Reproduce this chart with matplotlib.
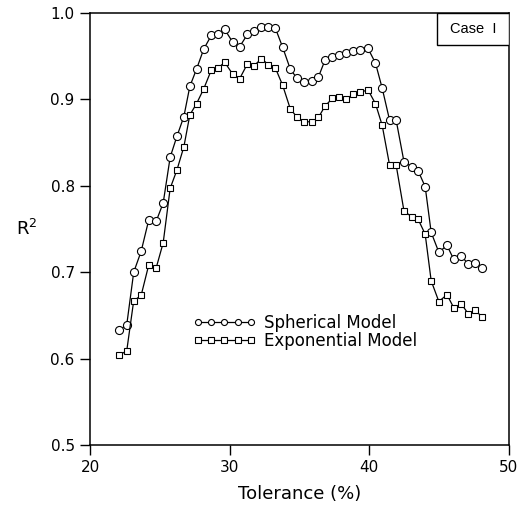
import matplotlib
matplotlib.use("Agg")
import matplotlib.pyplot as plt
from matplotlib.patches import Rectangle

# tolerance (%) values
tolerance = [22.10, 22.63, 23.13, 23.66, 24.20, 24.74, 25.24, 25.74, 26.22, 26.72,
             27.15, 27.63, 28.14, 28.69, 29.17, 29.64, 30.22, 30.72, 31.27, 31.75,
             32.28, 32.78, 33.28, 33.80, 34.34, 34.79, 35.32, 35.87, 36.36, 36.82,
             37.35, 37.84, 38.33, 38.86, 39.35, 39.90, 40.44, 40.92, 41.45, 41.92,
             42.48, 43.03, 43.50, 44.00, 44.43, 44.98, 45.56, 46.04, 46.60, 47.08,
             47.60, 48.07]

r2_spherical = [0.633, 0.639, 0.700, 0.724, 0.760, 0.759, 0.780, 0.833, 0.857, 0.880,
                0.915, 0.935, 0.958, 0.974, 0.975, 0.981, 0.966, 0.961, 0.975, 0.979,
                0.984, 0.984, 0.982, 0.960, 0.935, 0.925, 0.920, 0.921, 0.926, 0.945,
                0.949, 0.951, 0.954, 0.956, 0.957, 0.959, 0.942, 0.913, 0.876, 0.876,
                0.828, 0.822, 0.817, 0.799, 0.746, 0.723, 0.731, 0.715, 0.719, 0.709,
                0.711, 0.705]

r2_exponential = [0.604, 0.609, 0.667, 0.673, 0.708, 0.705, 0.734, 0.797, 0.818, 0.845,
                  0.882, 0.895, 0.912, 0.934, 0.936, 0.943, 0.929, 0.924, 0.941, 0.939,
                  0.947, 0.940, 0.936, 0.916, 0.889, 0.880, 0.874, 0.874, 0.879, 0.892,
                  0.901, 0.903, 0.900, 0.906, 0.908, 0.911, 0.895, 0.870, 0.824, 0.824,
                  0.771, 0.764, 0.761, 0.744, 0.690, 0.666, 0.674, 0.659, 0.663, 0.652,
                  0.656, 0.648]

xticks = [20, 30, 40, 50]
yticks = [0.5, 0.6, 0.7, 0.8, 0.9, 1.0]

fig = plt.figure(figsize=(5.31, 5.09), dpi=100)
ax = fig.add_axes([0.1695, 0.1257, 0.789, 0.849])

ax.plot(tolerance, r2_spherical, color="black", lw=0.9, marker="o", ms=5.8,
        mfc="white", mec="black", mew=0.8, label="Spherical Model")
ax.plot(tolerance, r2_exponential, color="black", lw=0.9, marker="s", ms=5.0,
        mfc="white", mec="black", mew=0.8, label="Exponential Model")

ax.set_xlim(20, 50)
ax.set_ylim(0.5, 1.0)
ax.set_xticks(xticks)
ax.set_yticks(yticks)
ax.set_yticklabels([f"{v:.1f}" for v in yticks])
ax.tick_params(direction="out", length=7, width=1, labelsize=11, pad=4)
for s in ax.spines.values():
    s.set_linewidth(1.1)

ax.set_xlabel("Tolerance (%)", fontsize=13, labelpad=7)
ax.set_ylabel("R$^2$", fontsize=13, rotation=0, va="center")
ax.yaxis.set_label_coords(-0.15, 0.50)

ax.legend(loc="center left", bbox_to_anchor=(0.225, 0.262), frameon=False,
          numpoints=5, markerscale=0.75, handlelength=3.8, handletextpad=0.5,
          borderpad=0, labelspacing=0.0, fontsize=12)

# "Case I" box in the top right corner
box_w, box_h = 0.172, 0.074
ax.add_patch(Rectangle((1 - box_w, 1 - box_h), box_w, box_h, transform=ax.transAxes,
                       fill=True, fc="white", ec="black", lw=1.0, zorder=5))
ax.text(1 - box_w / 2, 1 - box_h / 2, "Case  I", transform=ax.transAxes,
        ha="center", va="center", fontsize=10.5, family="Liberation Sans", zorder=6)

fig.savefig("out.png", dpi=100)
